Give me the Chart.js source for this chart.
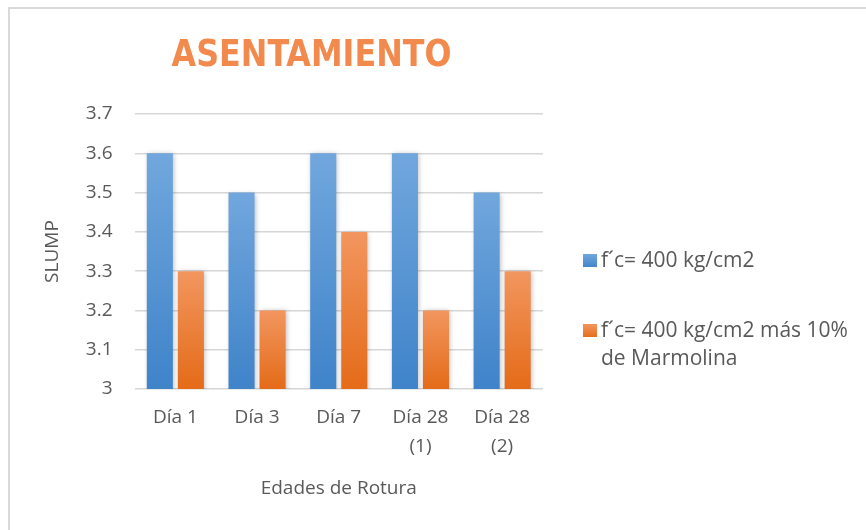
<!DOCTYPE html>
<html>
<head>
<meta charset="utf-8">
<script src="https://cdn.jsdelivr.net/npm/chart.js@4.4.1/dist/chart.umd.min.js"></script>
<style>
  html, body { margin: 0; padding: 0; background: #fff; }
  #frame { position: absolute; left: 8px; top: 7px; width: 900px; height: 560px; border: 2px solid #d9d9d9; }
  #wrap { position: absolute; left: 0; top: 0; width: 866px; height: 530px; }
</style>
</head>
<body>
<div id="frame"></div>
<div id="wrap"><canvas id="slumpChart" width="866" height="530"></canvas></div>
<script>
const categories = [['Día 1'], ['Día 3'], ['Día 7'], ['Día 28', '(1)'], ['Día 28', '(2)']];
const seriesNames = [['f´c= 400 kg/cm2'], ['f´c= 400 kg/cm2 más 10%', 'de Marmolina']];
const slumpBase = [3.6, 3.5, 3.6, 3.6, 3.5];
const slumpMarmolina = [3.3, 3.2, 3.4, 3.2, 3.3];
const yTicks = [3, 3.1, 3.2, 3.3, 3.4, 3.5, 3.6, 3.7];

const blueShade = ['#71a7dd', '#3f83c9'];
const orangeShade = ['#f2965f', '#e46b18'];
const textGray = '#595959';
const font = 'Open Sans';

// vertical gradient per bar, light on top
function barFill(shade) {
  return (c) => {
    const chart = c.chart;
    if (c.type !== 'data' || !chart.chartArea) return shade[1];
    const y = chart.scales.y;
    const top = y.getPixelForValue(c.raw);
    const bottom = y.getPixelForValue(y.min);
    const g = chart.ctx.createLinearGradient(0, top, 0, bottom);
    g.addColorStop(0, shade[0]);
    g.addColorStop(1, shade[1]);
    return g;
  };
}

const barShadow = {
  id: 'barShadow',
  beforeDatasetsDraw(chart) {
    const c = chart.ctx;
    c.save();
    c.shadowColor = 'rgba(0,0,0,0.28)';
    c.shadowBlur = 5;
    c.shadowOffsetX = 1;
    c.shadowOffsetY = 1;
  },
  afterDatasetsDraw(chart) {
    chart.ctx.restore();
  }
};

const chartTitle = {
  id: 'chartTitle',
  afterDraw(chart) {
    const { ctx, chartArea } = chart;
    ctx.save();
    ctx.font = 'bold 38px "DejaVu Sans Condensed"';
    ctx.fillStyle = '#f28a4d';
    ctx.textAlign = 'center';
    ctx.textBaseline = 'middle';
    ctx.translate(chartArea.left + 177, chartArea.top - 58);
    ctx.scale(0.93, 1);
    ctx.fillText('ASENTAMIENTO', 0, 0);
    ctx.restore();
  }
};

// legend to the right, second entry wraps onto two lines
const sideLegend = {
  id: 'sideLegend',
  afterDraw(chart) {
    const { ctx, chartArea } = chart;
    const x = chartArea.right + 40;
    let y = chartArea.top + 147;
    const shades = [blueShade, orangeShade];
    ctx.save();
    ctx.font = '21px "' + font + '"';
    ctx.textBaseline = 'middle';
    chart.data.datasets.forEach((ds, i) => {
      const g = ctx.createLinearGradient(0, y - 7, 0, y + 7);
      g.addColorStop(0, shades[i][0]);
      g.addColorStop(1, shades[i][1]);
      ctx.fillStyle = g;
      ctx.fillRect(x, y - 7, 14, 13);
      ctx.fillStyle = textGray;
      seriesNames[i].forEach((t, j) => ctx.fillText(t, x + 18, y + j * 28));
      y += 70;
    });
    ctx.restore();
  }
};

new Chart(document.getElementById('slumpChart'), {
  type: 'bar',
  data: {
    labels: categories,
    datasets: [{
      label: seriesNames[0].join(' '),
      data: slumpBase,
      backgroundColor: barFill(blueShade)
    }, {
      label: seriesNames[1].join(' '),
      data: slumpMarmolina,
      backgroundColor: barFill(orangeShade)
    }]
  },
  options: {
    responsive: false,
    animation: false,
    categoryPercentage: 0.76,
    barPercentage: 0.84,
    layout: { padding: { left: 41, right: 323, top: 114, bottom: 30 } },
    plugins: {
      legend: { display: false },
      tooltip: { enabled: false }
    },
    scales: {
      x: {
        grid: { display: false, drawTicks: false },
        border: { display: false },
        ticks: { color: textGray, padding: 14, font: { family: font, size: 19, lineHeight: 1.53 } },
        title: { display: true, text: 'Edades de Rotura', color: textGray, padding: { top: 2, bottom: 0 }, font: { family: font, size: 19 } }
      },
      y: {
        min: yTicks[0],
        max: yTicks[yTicks.length - 1],
        afterBuildTicks: (s) => { s.ticks = yTicks.map(v => ({ value: v })); },
        grid: { color: '#d6d6d6', lineWidth: 1.5, drawTicks: false },
        border: { display: false },
        ticks: { color: textGray, padding: 22, font: { family: font, size: 19 }, callback: (v) => String(v) },
        title: { display: true, text: 'SLUMP', color: textGray, padding: { top: 0, bottom: 0 }, font: { family: font, size: 19 } }
      }
    }
  },
  plugins: [barShadow, chartTitle, sideLegend]
});
</script>
</body>
</html>
